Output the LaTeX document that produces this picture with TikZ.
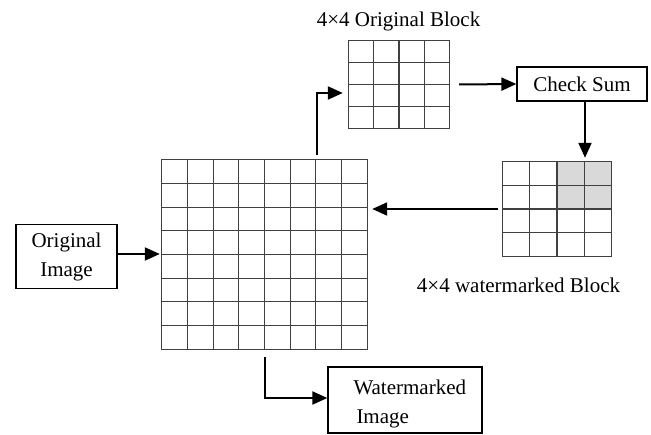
\documentclass[tikz,border=0pt]{standalone}
\usepackage{fontspec}
\setmainfont{Liberation Serif}
\usepackage{tikz}
\usetikzlibrary{calc}
\usetikzlibrary{arrows.meta}
\usetikzlibrary{positioning}

\tikzset{
    txt/.style={font=\fontsize{21}{29}\selectfont},
    box/.style={txt,draw=black,line width=1.3pt,inner sep=0pt},
    blk/.style={inner sep=0pt},
    cell/.style={draw=black!75,line width=1.1pt},
    arr/.style={line width=2pt,-{Triangle[length=15pt,width=13pt]}}
}

\begin{document}
\begin{tikzpicture}[x=1pt,y=-1pt]
        \useasboundingbox (0,0) rectangle (651,435);

        % the blocks
        \node[blk,minimum width=205pt,minimum height=189pt] (big) at (264.5,254.5) {};
        \node[blk,minimum width=100pt,minimum height=87pt] (orig) at (399,84.5) {};
        \node[blk,minimum width=108pt,minimum height=94pt] (wblk) at (557,209) {};

        \fill[black!15] ($(wblk.north west)!0.5!(wblk.north east)$)
            rectangle ($(wblk.north east)!0.5!(wblk.south east)$);

        \draw[cell] (big.south west) rectangle (big.north east);
        \foreach \i in {1,...,7} {
            \draw[cell] ($(big.south west)!\i/8!(big.south east)$) -- ($(big.north west)!\i/8!(big.north east)$);
            \draw[cell] ($(big.south west)!\i/8!(big.north west)$) -- ($(big.south east)!\i/8!(big.north east)$);
        }
        \foreach \b in {orig,wblk} {
            \draw[cell] (\b.south west) rectangle (\b.north east);
            \foreach \i in {1,2,3} {
                \draw[cell] ($(\b.south west)!\i/4!(\b.south east)$) -- ($(\b.north west)!\i/4!(\b.north east)$);
                \draw[cell] ($(\b.south west)!\i/4!(\b.north west)$) -- ($(\b.south east)!\i/4!(\b.north east)$);
            }
        }

        % labels and boxes
        \node[txt,anchor=base] (olab) at (398.5,27) {4×4 Original Block};
        \node[txt,anchor=base] (wlab) at (518.5,293) {4×4 watermarked Block};
        \node[box,minimum width=130pt,minimum height=34pt] (csum) at (582,84) {Check Sum};
        \node[box,align=center,minimum width=101pt,minimum height=64pt] (oimg) at (66.5,256.5) {Original\\Image};
        \node[box,align=left,text width=137pt,inner xsep=0pt,minimum width=154pt,minimum height=66pt,
              text height=24pt,text depth=34pt] (wimg) at (405,400) {\hspace*{17pt}Watermarked\\\hspace*{20pt}Image};

        % arrows
        \draw[arr,shorten >=2pt] ([yshift=2.5pt]oimg.east) -- ([yshift=2.5pt]oimg.east -| big.west);
        \draw[arr] ([xshift=52.5pt,yshift=5pt]big.north) |- ([xshift=-6pt,yshift=-8.5pt]orig.west);
        \draw[arr] ([xshift=10pt]orig.east) -- (csum.west);
        \draw[arr,shorten >=4pt] ([xshift=3pt]csum.south) -- ([xshift=3pt]csum.south |- wblk.north);
        \draw[arr,shorten <=5pt,shorten >=5pt] (wblk.west) -- (wblk.west -| big.east);
        \draw[arr] ([yshift=-8pt]big.south) |- ([yshift=2pt]wimg.west);
    \end{tikzpicture}
\end{document}
